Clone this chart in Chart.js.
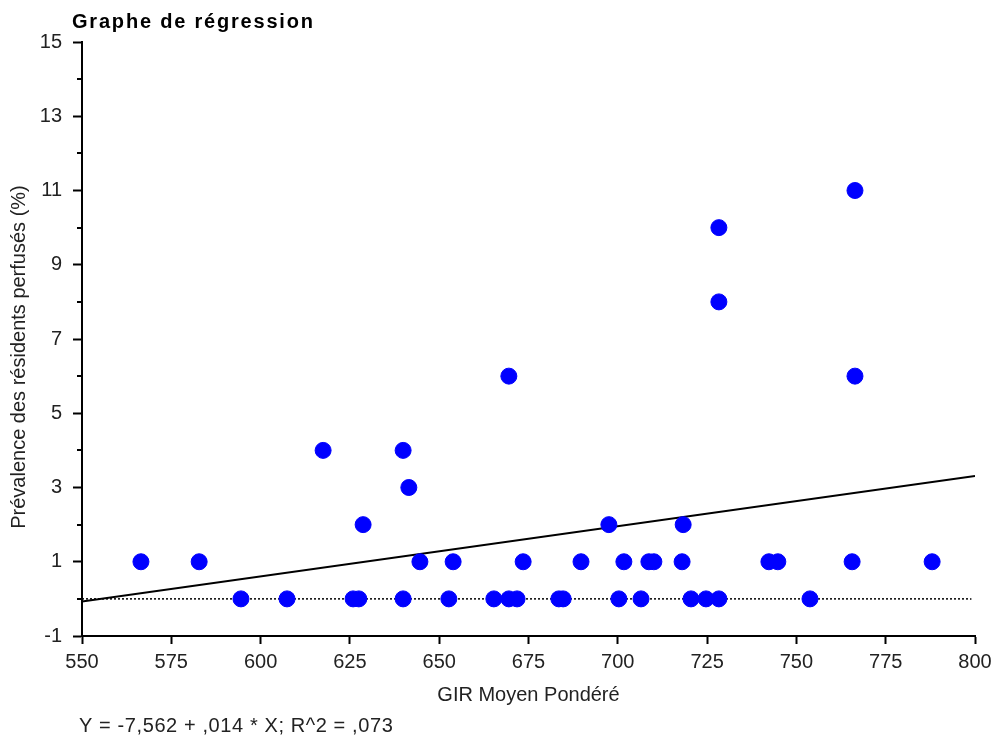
<!DOCTYPE html>
<html>
<head>
<meta charset="utf-8">
<script src="https://cdn.jsdelivr.net/npm/chart.js@4"></script>
<style>
  body { margin: 0; background: #fff; }
  #wrap { width: 993px; height: 738px; }
</style>
</head>
<body>
<div id="wrap"><canvas id="graphe" width="993" height="738"></canvas></div>
<script>
// donnees
const girX = [566.5, 582.8, 594.5, 607.4, 617.5, 625.9, 627.5, 628.7, 639.9, 639.9,
    641.5, 644.6, 652.7, 653.9, 665.3, 669.5, 669.5, 671.8, 673.5, 683.5,
    684.7, 689.7, 697.5, 700.3, 701.7, 706.5, 708.7, 710.1, 718.3, 718,
    720.5, 724.7, 728.3, 728.3, 728.3, 742.3, 744.8, 753.8, 765.6, 766.4,
    766.4, 788];
const prevalence = [1, 1, 0, 0, 4, 0, 0, 2, 4, 0,
    3, 1, 0, 1, 0, 6, 0, 0, 1, 0,
    0, 1, 2, 0, 1, 0, 1, 1, 2, 1,
    0, 0, 10, 8, 0, 1, 1, 0, 1, 11,
    6, 1];

// droite de regression (valeurs aux bornes)
const regX = [550, 800];
const regY = [-0.07, 3.31];
// ligne pointillee a zero
const zeroX = [550, 799];
const zeroY = [0, 0];
// petites graduations de l'axe Y
const yMineures = [0, 2, 4, 6, 8, 10, 12, 14];

const titre = 'Graphe de régression';
const titreY = 'Prévalence des résidents perfusés (%)';
const equation = 'Y = -7,562 + ,014 * X; R^2 = ,073';

function toPoints(xs, ys) {
    return xs.map((x, i) => ({ x: x, y: ys[i] }));
}

const famille = '"Liberation Sans", Arial, sans-serif';

const textes = {
    id: 'textes',
    afterDraw(chart) {
        const ctx = chart.ctx;
        const y = chart.scales.y;
        const left = chart.chartArea.left;
        ctx.save();
        // graduations mineures
        ctx.strokeStyle = '#000';
        ctx.lineWidth = 2;
        yMineures.forEach(v => {
            const py = Math.round(y.getPixelForValue(v));
            ctx.beginPath();
            ctx.moveTo(left - 5, py);
            ctx.lineTo(left, py);
            ctx.stroke();
        });
        ctx.textBaseline = 'middle';
        ctx.fillStyle = '#000';
        ctx.letterSpacing = '1.8px';
        ctx.font = 'bold 20px ' + famille;
        ctx.fillText(titre, 72, 22);
        ctx.fillStyle = '#222';
        ctx.letterSpacing = '0.6px';
        ctx.font = '20px ' + famille;
        ctx.fillText(equation, 79, 726);
        // titre axe Y
        ctx.letterSpacing = '0px';
        ctx.translate(19, 357);
        ctx.rotate(-Math.PI / 2);
        ctx.textAlign = 'center';
        ctx.fillText(titreY, 0, 0);
        ctx.restore();
    }
};

const police = { family: famille, size: 20 };

new Chart(document.getElementById('graphe'), {
    type: 'scatter',
    data: {
        datasets: [{
            data: toPoints(girX, prevalence),
            backgroundColor: '#0000ff',
            borderColor: '#0000ff',
            pointRadius: 8,
            pointHoverRadius: 8,
            order: 0
        }, {
            type: 'line',
            data: toPoints(regX, regY),
            borderColor: '#000',
            borderWidth: 2,
            pointRadius: 0,
            order: 1
        }, {
            type: 'line',
            data: toPoints(zeroX, zeroY),
            borderColor: '#000',
            borderWidth: 1.5,
            borderDash: [2, 2],
            pointRadius: 0,
            order: 2
        }]
    },
    options: {
        responsive: false,
        animation: false,
        layout: { padding: { left: 0, right: 18, top: 42, bottom: 30 } },
        plugins: { legend: { display: false }, tooltip: { enabled: false } },
        scales: {
            x: {
                type: 'linear',
                min: 550,
                max: 800,
                afterFit: (s) => { s.height = 72; s.paddingRight = 0; s.paddingLeft = 0; },
                ticks: { stepSize: 25, color: '#222', font: police, padding: 6 },
                grid: { drawOnChartArea: false, drawTicks: true, tickLength: 8, color: '#000', tickWidth: 2 },
                border: { color: '#000', width: 2 },
                title: { display: true, text: 'GIR Moyen Pondéré', color: '#222', font: police, padding: { top: 4, bottom: 1 } }
            },
            y: {
                min: -1,
                max: 15,
                afterFit: (s) => { s.width = 82; },
                ticks: { stepSize: 2, color: '#222', font: police, padding: 11 },
                grid: { drawOnChartArea: false, drawTicks: true, tickLength: 9, color: '#000', tickWidth: 2 },
                border: { color: '#000', width: 2 },
                title: { display: false }
            }
        }
    },
    plugins: [textes]
});
</script>
</body>
</html>
